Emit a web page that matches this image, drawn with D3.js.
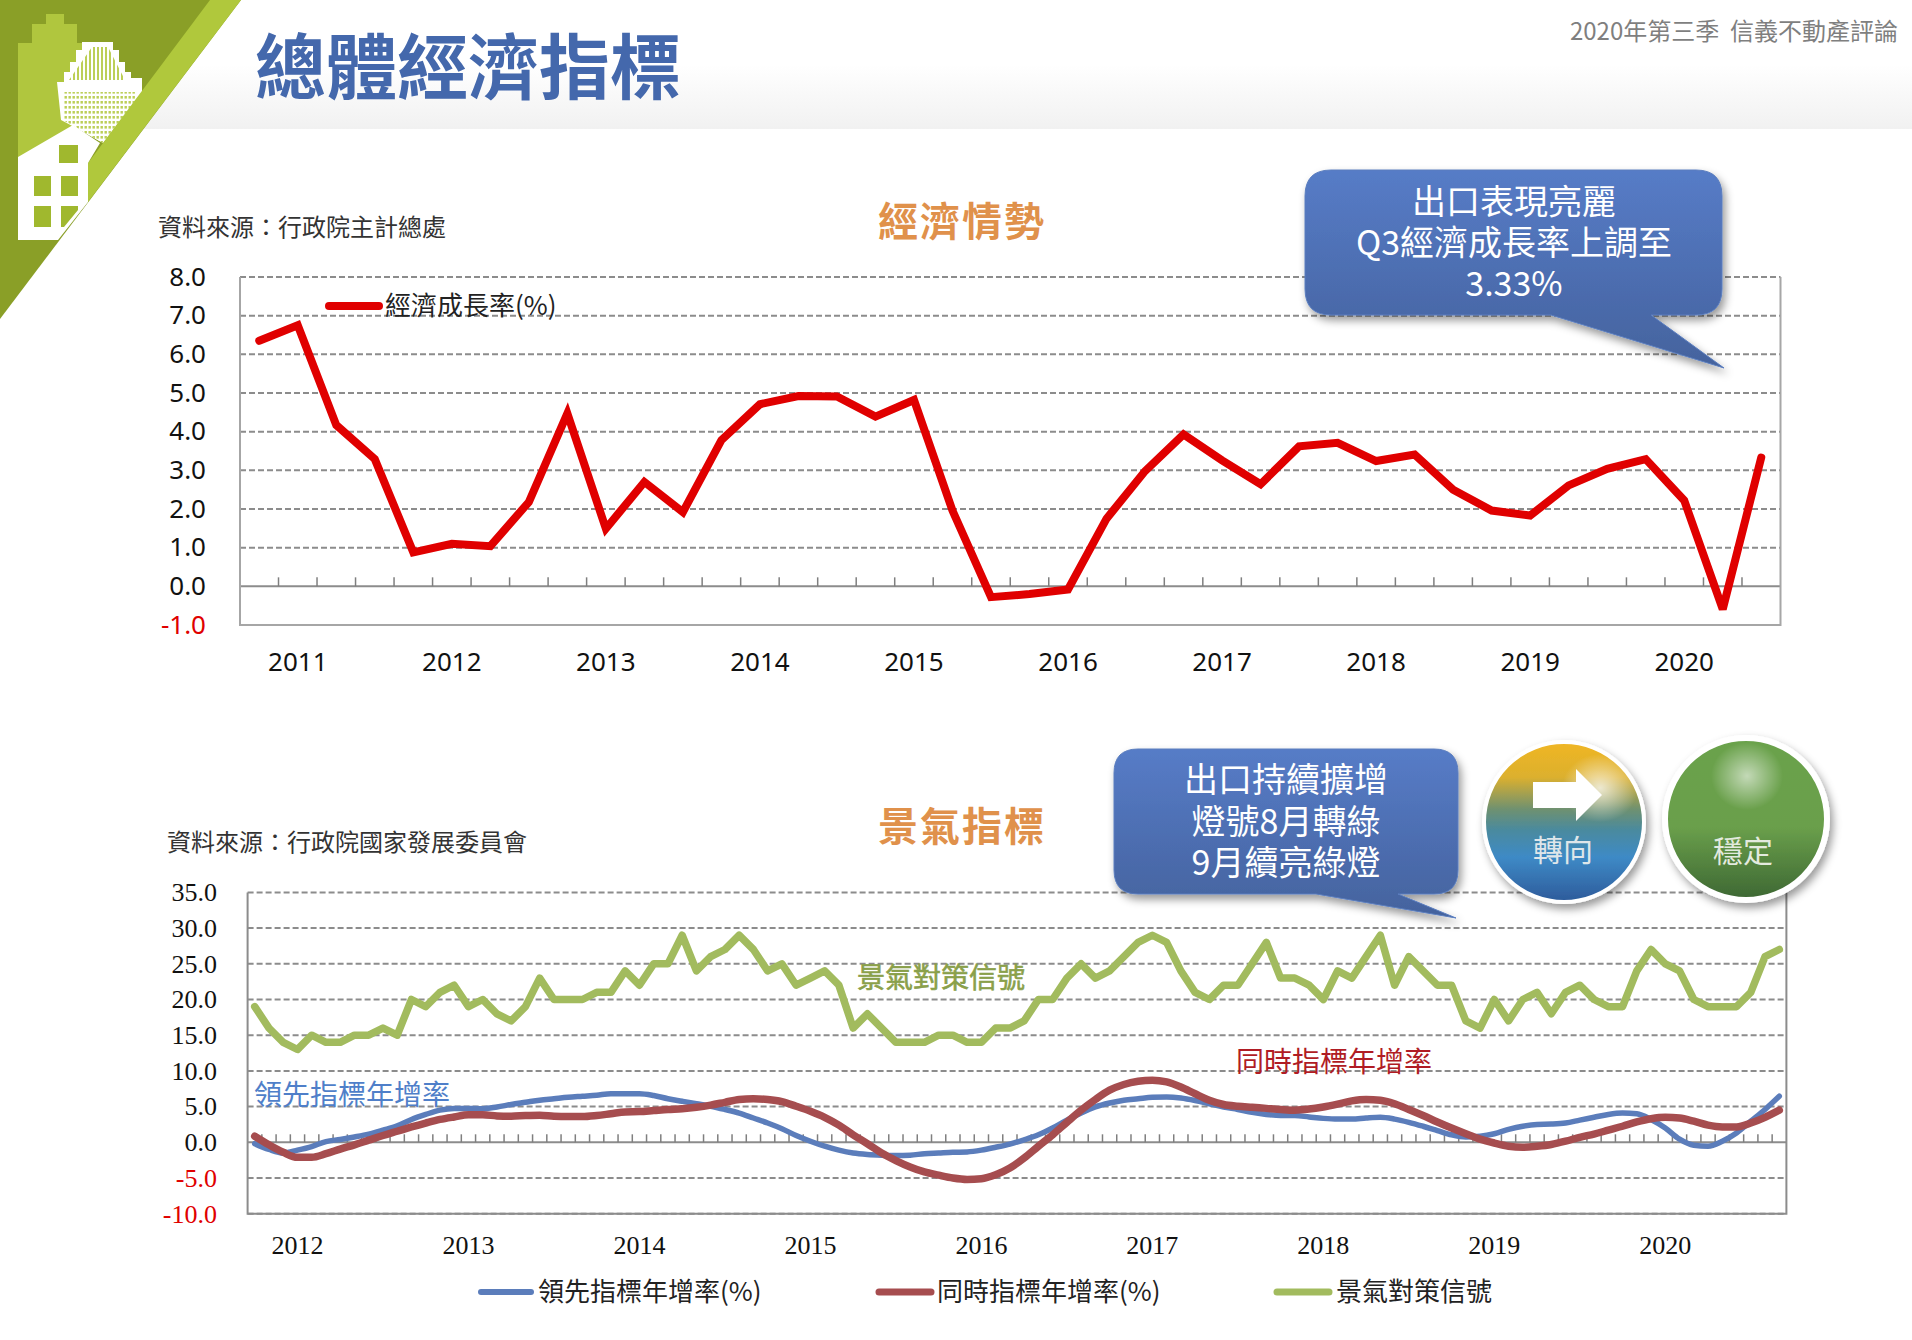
<!DOCTYPE html>
<html>
<head>
<meta charset="utf-8">
<script src="https://cdn.jsdelivr.net/npm/d3@7"></script>
<style>
  html, body { margin: 0; padding: 0; background: #fff; }
  svg { display: block; }
  text { font-family: "Noto Sans CJK TC", "Noto Sans", sans-serif; }
</style>
</head>
<body>
<svg id="chart" width="1912" height="1340"></svg>
<script>
// ---- data ----
// 2010Q4 .. 2020Q3
const gdpYears = [2011, 2012, 2013, 2014, 2015, 2016, 2017, 2018, 2019, 2020];
const gdpGrowth = [6.35, 6.75, 4.17, 3.29, 0.88, 1.1, 1.04, 2.18, 4.47, 1.49,
  2.7, 1.92, 3.78, 4.71, 4.92, 4.91, 4.39, 4.82, 1.96, -0.28,
  -0.2, -0.08, 1.75, 2.98, 3.93, 3.26, 2.64, 3.62, 3.71, 3.24,
  3.41, 2.5, 1.96, 1.83, 2.61, 3.04, 3.29, 2.22, -0.59, 3.33];
const gdpTicks = [8, 7, 6, 5, 4, 3, 2, 1, 0, -1];

// 2011-10 .. 2020-09
const cycleYears = [2012, 2013, 2014, 2015, 2016, 2017, 2018, 2019, 2020];
const leading = [-0.2, -1.0, -1.5, -1.1, -0.6, 0.1, 0.4, 0.75, 1.15, 1.7, 2.3, 3.2,
  3.9, 4.5, 4.75, 4.75, 4.7, 4.95, 5.3, 5.6, 5.9, 6.1, 6.3, 6.45,
  6.6, 6.8, 6.8, 6.8, 6.55, 6.1, 5.75, 5.4, 5.05, 4.6, 4.1, 3.4,
  2.7, 1.9, 0.95, 0.15, -0.55, -1.1, -1.5, -1.7, -1.8, -1.85, -1.8, -1.6,
  -1.5, -1.4, -1.35, -1.1, -0.7, -0.25, 0.35, 1.05, 2, 3.1, 4.1, 4.95,
  5.5, 5.9, 6.1, 6.3, 6.35, 6.2, 5.85, 5.4, 4.95, 4.6, 4.2, 3.9,
  3.75, 3.75, 3.55, 3.35, 3.25, 3.25, 3.4, 3.5, 3.25, 2.8, 2.25, 1.65,
  1.05, 0.75, 0.85, 1.2, 1.8, 2.25, 2.5, 2.55, 2.7, 3.1, 3.5, 3.9,
  4.1, 4, 3.2, 2, 0.45, -0.4, -0.55, 0.15, 1.3, 2.95, 4.6, 6.45];
const coincident = [0.85, -0.35, -1.4, -2.1, -2.1, -1.6, -0.95, -0.35, 0.3, 0.95, 1.55, 2.15,
  2.7, 3.2, 3.55, 3.85, 3.85, 3.7, 3.65, 3.75, 3.8, 3.65, 3.6, 3.6,
  3.75, 4, 4.25, 4.3, 4.45, 4.6, 4.7, 4.9, 5.2, 5.6, 6, 6.1,
  6, 5.7, 5.05, 4.35, 3.5, 2.4, 1.05, -0.2, -1.5, -2.55, -3.45, -4.15,
  -4.6, -5, -5.2, -5.1, -4.55, -3.6, -2.2, -0.55, 1.05, 2.8, 4.5, 6,
  7.3, 8.1, 8.55, 8.7, 8.45, 7.75, 6.8, 5.9, 5.3, 5.05, 4.9, 4.75,
  4.6, 4.5, 4.65, 4.95, 5.35, 5.8, 6, 5.9, 5.4, 4.6, 3.75, 2.85,
  2, 1.2, 0.45, -0.1, -0.55, -0.7, -0.55, -0.3, 0.15, 0.7, 1.15, 1.7,
  2.25, 2.85, 3.3, 3.5, 3.4, 2.95, 2.4, 2.15, 2.15, 2.7, 3.5, 4.5];
const signal = [19, 16, 14, 13, 15, 14, 14, 15, 15, 16, 15, 20,
  19, 21, 22, 19, 20, 18, 17, 19, 23, 20, 20, 20,
  21, 21, 24, 22, 25, 25, 29, 24, 26, 27, 29, 27,
  24, 25, 22, 23, 24, 22, 16, 18, 16, 14, 14, 14,
  15, 15, 14, 14, 16, 16, 17, 20, 20, 23, 25, 23,
  24, 26, 28, 29, 28, 24, 21, 20, 22, 22, 25, 28,
  23, 23, 22, 20, 24, 23, 26, 29, 22, 26, 24, 22,
  22, 17, 16, 20, 17, 20, 21, 18, 21, 22, 20, 19,
  19, 24, 27, 25, 24, 20, 19, 19, 19, 21, 26, 27];
const cycleTicks = [35, 30, 25, 20, 15, 10, 5, 0, -5, -10];

const svg = d3.select('#chart');
const defs = svg.append('defs');

function vGradient(id, stops) {
  const g = defs.append('linearGradient').attr('id', id)
    .attr('x1', 0).attr('y1', 0).attr('x2', 0).attr('y2', 1);
  stops.forEach(s => g.append('stop').attr('offset', s[0]).attr('stop-color', s[1]));
}
vGradient('headerBg', [[0, '#ffffff'], [0.5, '#ffffff'], [1, '#f1f1f1']]);
vGradient('callout', [[0, '#567cc7'], [0.6, '#4c6cae'], [1, '#44639d']]);
vGradient('ballTurn', [[0, '#f0b624'], [0.22, '#dcb02e'], [0.42, '#6f9170'], [0.55, '#4a8a9e'], [0.72, '#3e8ac6'], [1, '#2d5a9a']]);
vGradient('ballStable', [[0, '#6aa24c'], [0.55, '#6a9f4b'], [1, '#3d6733']]);

const shadow = defs.append('filter').attr('id', 'shadow')
  .attr('x', '-15%').attr('y', '-15%').attr('width', '130%').attr('height', '135%');
shadow.append('feDropShadow').attr('dx', 3).attr('dy', 5).attr('stdDeviation', 4)
  .attr('flood-color', '#000').attr('flood-opacity', 0.4);

const hlTurn = defs.append('radialGradient').attr('id', 'hlTurn');
hlTurn.append('stop').attr('offset', 0).attr('stop-color', '#fff').attr('stop-opacity', 0.75);
hlTurn.append('stop').attr('offset', 1).attr('stop-color', '#fff').attr('stop-opacity', 0);
const hlStable = defs.append('radialGradient').attr('id', 'hlStable');
hlStable.append('stop').attr('offset', 0).attr('stop-color', '#fff').attr('stop-opacity', 0.6);
hlStable.append('stop').attr('offset', 1).attr('stop-color', '#fff').attr('stop-opacity', 0);

const dots = defs.append('pattern').attr('id', 'dots').attr('width', 4).attr('height', 5)
  .attr('patternUnits', 'userSpaceOnUse');
dots.append('rect').attr('width', 4).attr('height', 5).attr('fill', '#fff');
dots.append('rect').attr('x', 0.5).attr('y', 1).attr('width', 2.4).attr('height', 2.6).attr('fill', '#bccf57');
const stripes = defs.append('pattern').attr('id', 'stripes').attr('width', 4).attr('height', 8)
  .attr('patternUnits', 'userSpaceOnUse');
stripes.append('rect').attr('width', 4).attr('height', 8).attr('fill', '#fff');
stripes.append('rect').attr('x', 1).attr('width', 2).attr('height', 8).attr('fill', '#bccf57');

// ---- header band and logo ----
svg.append('rect').attr('width', 1912).attr('height', 129).attr('fill', 'url(#headerBg)');

const poly = (pts, fill) => svg.append('polygon').attr('points', pts).attr('fill', fill);
poly('0,0 241,0 0,319', '#8a9f27');
poly('46,14 64,14 64,24 77,24 77,43 85,43 85,100 60,157 18,157 18,43 32,43 32,24 46,24', '#b0c63e');
// white tower, stepped outline
poly('82,42 113,42 113,50 119,50 119,62 125,62 125,72 131,72 131,78 142,78 142,92 103,143 80,130 61,120 57,82 64,82 64,72 70,72 70,62 76,62 76,50 82,50', '#fff');
poly('92,47 108,47 125,80 69,80', 'url(#stripes)');
poly('63,92 136,92 136,100 103,143 80,130 63,120', 'url(#dots)');
poly('210,0 241,0 88,202 88,163', '#b0c83c');
poly('18,157 73,125 100,143 88,163 88,202 58,240 18,240', '#fff');
[[59, 145, 19, 18], [34, 176, 17, 20], [61, 176, 17, 20], [34, 206, 17, 21]].forEach(w =>
  svg.append('rect').attr('x', w[0]).attr('y', w[1]).attr('width', w[2]).attr('height', w[3]).attr('fill', '#a0b82e'));
poly('61,206 78,206 78,210 64,227 61,227', '#a0b82e');

function label(txt, x, y, size, fill, opts) {
  opts = opts || {};
  return svg.append('text').attr('x', x).attr('y', y).attr('dy', '0.36em')
    .attr('font-size', size).attr('fill', fill)
    .attr('text-anchor', opts.anchor || 'start')
    .attr('font-weight', opts.weight || 'normal')
    .attr('letter-spacing', opts.spacing || null)
    .style('white-space', 'pre')
    .text(txt);
}

label('總體經濟指標', 255, 67, 71, '#4468ac', { weight: 'bold' });
label('2020年第三季  信義不動產評論', 1898, 31, 24, '#7f7f7f', { anchor: 'end' });

// ---- charts ----
function frame(g, x, y, color) {
  const [l, r] = x.range();
  const [b, t] = y.range();
  g.append('path').attr('d', `M${l},${t}V${b}H${r}V${t}`)
    .attr('fill', 'none').attr('stroke', color).attr('stroke-width', 2);
}

function gridlines(g, x, y, ticks, color) {
  g.selectAll('.grid').data(ticks).join('line').attr('class', 'grid')
    .attr('x1', x.range()[0]).attr('x2', x.range()[1])
    .attr('y1', d => y(d)).attr('y2', d => y(d))
    .attr('stroke', color).attr('stroke-width', 2)
    .attr('stroke-dasharray', d => d === 0 ? null : '6 3');
}

function yAxis(g, y, ticks, right, font, size) {
  const ax = g.append('g').attr('transform', `translate(${right},0)`)
    .call(d3.axisLeft(y).tickValues(ticks).tickSize(0).tickPadding(0).tickFormat(d => d.toFixed(1)));
  ax.select('.domain').remove();
  ax.selectAll('text').style('font-family', font).attr('font-size', size)
    .attr('fill', d => d < 0 ? '#e00000' : '#111');
}

function yearAxis(g, x, cats, labels, baseY, font, size) {
  const ax = g.append('g').attr('transform', `translate(0,${baseY})`)
    .call(d3.axisBottom(x).tickValues(cats).tickSize(0).tickPadding(0).tickFormat((d, i) => labels[i]));
  ax.select('.domain').remove();
  ax.selectAll('text').style('font-family', font).attr('font-size', size)
    .attr('fill', '#111').attr('y', 0).attr('dy', '0.36em');
}

function zeroTicks(g, x, y, len, color) {
  g.selectAll('.tick-up').data(x.domain().slice(1)).join('line').attr('class', 'tick-up')
    .attr('x1', d => x(d)).attr('x2', d => x(d))
    .attr('y1', y(0)).attr('y2', y(0) - len)
    .attr('stroke', color).attr('stroke-width', 1.5);
}

function series(g, x, y, cats, values, color, width, curve, join) {
  const line = d3.line().x((d, i) => x(cats[i]) + x.bandwidth() / 2).y(d => y(d)).curve(curve);
  g.append('path').attr('d', line(values))
    .attr('fill', 'none').attr('stroke', color).attr('stroke-width', width)
    .attr('stroke-linecap', 'round').attr('stroke-linejoin', join)
    .attr('stroke-miterlimit', 3);
}

function legendLine(x1, x2, y, color, width) {
  svg.append('line').attr('x1', x1).attr('x2', x2).attr('y1', y).attr('y2', y)
    .attr('stroke', color).attr('stroke-width', width).attr('stroke-linecap', 'round');
}

// economic growth
const quarters = [];
for (let yr = 2010, q = 4; quarters.length < gdpGrowth.length; q === 4 ? (yr++, q = 1) : q++) {
  quarters.push(yr + 'Q' + q);
}
const gdpX = d3.scaleBand().domain(quarters).range([240, 1780.5]);
const gdpY = d3.scaleLinear().domain([-1, 8]).range([625, 277]);
const g1 = svg.append('g');
gridlines(g1, gdpX, gdpY, gdpTicks, '#8c8c8c');
frame(g1, gdpX, gdpY, '#a6a6a6');
zeroTicks(g1, gdpX, gdpY, 9, '#7f7f7f');
yAxis(g1, gdpY, gdpTicks, 206, '"Noto Sans", sans-serif', 26);
yearAxis(g1, gdpX, gdpYears.map(d => d + 'Q1'), gdpYears, 662, '"Noto Sans", sans-serif', 26);
series(g1, gdpX, gdpY, quarters, gdpGrowth, '#e00000', 8, d3.curveLinear, 'miter');

label('資料來源：行政院主計總處', 158, 227, 24, '#333');
label('經濟情勢', 878, 222, 40, '#e0914b', { weight: 'bold', spacing: 2 });
legendLine(329, 379, 306, '#e00000', 8);
label('經濟成長率(%)', 385, 306, 26, '#222');

// business cycle indicators
const months = [];
for (let yr = 2011, m = 10; months.length < signal.length; m === 12 ? (yr++, m = 1) : m++) {
  months.push(yr + '-' + m);
}
const cycleX = d3.scaleBand().domain(months).range([247.6, 1786.4]);
const cycleY = d3.scaleLinear().domain([-10, 35]).range([1213.7, 892.4]);
const g2 = svg.append('g');
gridlines(g2, cycleX, cycleY, cycleTicks, '#8c8c8c');
frame(g2, cycleX, cycleY, '#8c8c8c');
zeroTicks(g2, cycleX, cycleY, 8, '#7f7f7f');
yAxis(g2, cycleY, cycleTicks, 217, '"Liberation Serif", serif', 26);
yearAxis(g2, cycleX, cycleYears.map(d => d + '-1'), cycleYears, 1245, '"Liberation Serif", serif', 26);
series(g2, cycleX, cycleY, months, signal, '#a2bb5e', 7.5, d3.curveLinear, 'round');
series(g2, cycleX, cycleY, months, leading, '#5b7dbb', 5.5, d3.curveMonotoneX, 'round');
series(g2, cycleX, cycleY, months, coincident, '#a64d4f', 7.5, d3.curveMonotoneX, 'round');

label('資料來源：行政院國家發展委員會', 167, 842, 24, '#333');
label('景氣指標', 878, 827, 40, '#e0914b', { weight: 'bold', spacing: 2 });
label('領先指標年增率', 254, 1095, 28, '#4f7fc9');
label('景氣對策信號', 857, 978, 28, '#8aa04a').attr('stroke', '#8aa04a').attr('stroke-width', 0.6);
label('同時指標年增率', 1236, 1062, 28, '#b01c24');

legendLine(481, 531, 1292, '#5b7dbb', 6);
label('領先指標年增率(%)', 538, 1292, 26, '#222');
legendLine(879, 931, 1292, '#a64d4f', 7);
label('同時指標年增率(%)', 937, 1292, 26, '#222');
legendLine(1277, 1329, 1292, '#a2bb5e', 7);
label('景氣對策信號', 1336, 1292, 26, '#222');

// ---- callouts ----
function callout(x1, y1, x2, y2, r, tailA, tip, tailB, lines, cx, ys, size) {
  const d = `M${x1 + r},${y1}H${x2 - r}Q${x2},${y1} ${x2},${y1 + r}V${y2 - r}Q${x2},${y2} ${x2 - r},${y2}` +
    `H${tailB}L${tip[0]},${tip[1]}L${tailA},${y2}H${x1 + r}Q${x1},${y2} ${x1},${y2 - r}V${y1 + r}Q${x1},${y1} ${x1 + r},${y1}Z`;
  svg.append('path').attr('d', d).attr('fill', 'url(#callout)')
    .attr('stroke', '#5a7dbe').attr('stroke-width', 1).attr('filter', 'url(#shadow)');
  lines.forEach((t, i) => label(t, cx, ys[i], size, '#fff', { anchor: 'middle' }));
}
callout(1305, 170, 1722, 315, 26, 1551, [1724, 368], 1651,
  ['出口表現亮麗', 'Q3經濟成長率上調至', '3.33%'], 1514, [202, 243, 284], 34);
callout(1114, 749, 1458, 894, 24, 1316, [1456, 918], 1398,
  ['出口持續擴增', '燈號8月轉綠', '9月續亮綠燈'], 1286, [780, 822, 863], 34);

// ---- signal balls ----
svg.append('circle').attr('cx', 1564).attr('cy', 822).attr('r', 80)
  .attr('fill', 'url(#ballTurn)').attr('stroke', '#fff').attr('stroke-width', 4).attr('filter', 'url(#shadow)');
svg.append('ellipse').attr('cx', 1600).attr('cy', 788).attr('rx', 38).attr('ry', 34).attr('fill', 'url(#hlTurn)');
poly('1533,782 1576,782 1576,769 1602,795 1576,821 1576,808 1533,808', '#fff');
label('轉向', 1563, 850, 30, '#dfe6ea', { anchor: 'middle' });

svg.append('circle').attr('cx', 1746).attr('cy', 819).attr('r', 81)
  .attr('fill', 'url(#ballStable)').attr('stroke', '#fff').attr('stroke-width', 6).attr('filter', 'url(#shadow)');
svg.append('ellipse').attr('cx', 1747).attr('cy', 776).attr('rx', 36).attr('ry', 34).attr('fill', 'url(#hlStable)');
label('穩定', 1743, 851, 30, '#e3eadf', { anchor: 'middle' });
</script>
</body>
</html>
